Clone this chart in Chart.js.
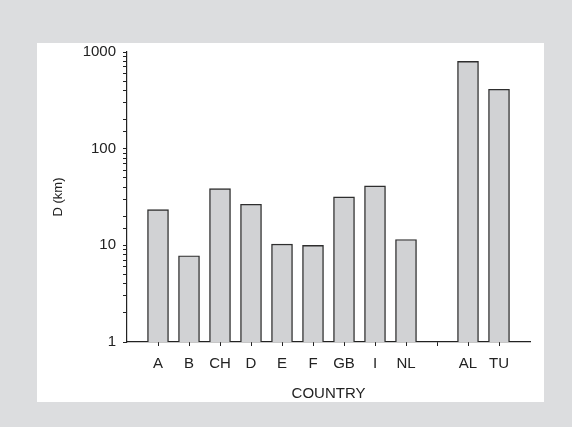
<!DOCTYPE html>
<html>
<head>
<meta charset="utf-8">
<script src="https://cdn.jsdelivr.net/npm/chart.js@4/dist/chart.umd.min.js"></script>
<style>
  html, body { margin: 0; padding: 0; background: #dcdddf; }
  #c { display: block; }
</style>
</head>
<body>
<canvas id="c" width="572" height="427"></canvas>
<script>
// Categories (empty strings are spacer slots in the original layout)
const categories = ['', 'A', 'B', 'CH', 'D', 'E', 'F', 'GB', 'I', 'NL', '', 'AL', 'TU', ''];
// D (km), log scale
const distances = [null, 23.4, 7.8, 38.6, 26.6, 10.3, 10.0, 31.7, 41.2, 11.5, null, 800, 412, null];
const yTickValues = [1, 10, 100, 1000];
const yTitle = 'D (km)';
const xTitle = 'COUNTRY';

const FONT = "'Liberation Sans', Arial, Helvetica, sans-serif";
const INK = '#222222';

const panelPlugin = {
  id: 'panel',
  beforeDraw(chart) {
    const ctx = chart.ctx;
    ctx.save();
    ctx.fillStyle = '#dcdddf';
    ctx.fillRect(0, 0, chart.width, chart.height);
    ctx.fillStyle = '#ffffff';
    ctx.fillRect(37, 43, 507, 359);
    ctx.restore();
  }
};

new Chart(document.getElementById('c'), {
  type: 'bar',
  data: {
    labels: categories,
    datasets: [{
      data: distances,
      backgroundColor: '#d1d2d4',
      borderColor: '#2e2e2e',
      borderWidth: 1.4,
      barThickness: 21
    }]
  },
  plugins: [panelPlugin],
  options: {
    responsive: false,
    animation: false,
    layout: { padding: { left: 37, top: 52, right: 42, bottom: 15 } },
    plugins: { legend: { display: false }, tooltip: { enabled: false } },
    scales: {
      x: {
        offset: false,
        afterFit(scale) { scale.height = 70; },
        grid: {
          offset: false,
          drawOnChartArea: false,
          drawTicks: true,
          tickLength: 4,
          tickWidth: 1,
          tickColor: (c) => (c.index === 0 || c.index === categories.length - 1) ? 'rgba(0,0,0,0)' : INK
        },
        border: { display: true, color: INK, width: 1.2 },
        ticks: {
          autoSkip: false,
          maxRotation: 0,
          padding: 9,
          color: INK,
          font: { family: FONT, size: 15 }
        },
        title: {
          display: true,
          text: xTitle,
          color: INK,
          font: { family: FONT, size: 15 },
          padding: { top: 0, bottom: 9 }
        }
      },
      y: {
        type: 'logarithmic',
        min: 1,
        max: 1000,
        afterFit(scale) { scale.width = 90; },
        grid: {
          drawOnChartArea: false,
          drawTicks: true,
          tickLength: 4,
          tickWidth: 1,
          tickColor: INK
        },
        border: { display: true, color: INK, width: 1.2 },
        ticks: {
          autoSkip: false,
          padding: 7,
          color: INK,
          font: { family: FONT, size: 15 },
          callback: (v) => yTickValues.includes(v) ? String(v) : ''
        },
        title: {
          display: true,
          text: yTitle,
          color: INK,
          font: { family: FONT, size: 13 },
          padding: { top: 14, bottom: 0 }
        }
      }
    }
  }
});
</script>
</body>
</html>
